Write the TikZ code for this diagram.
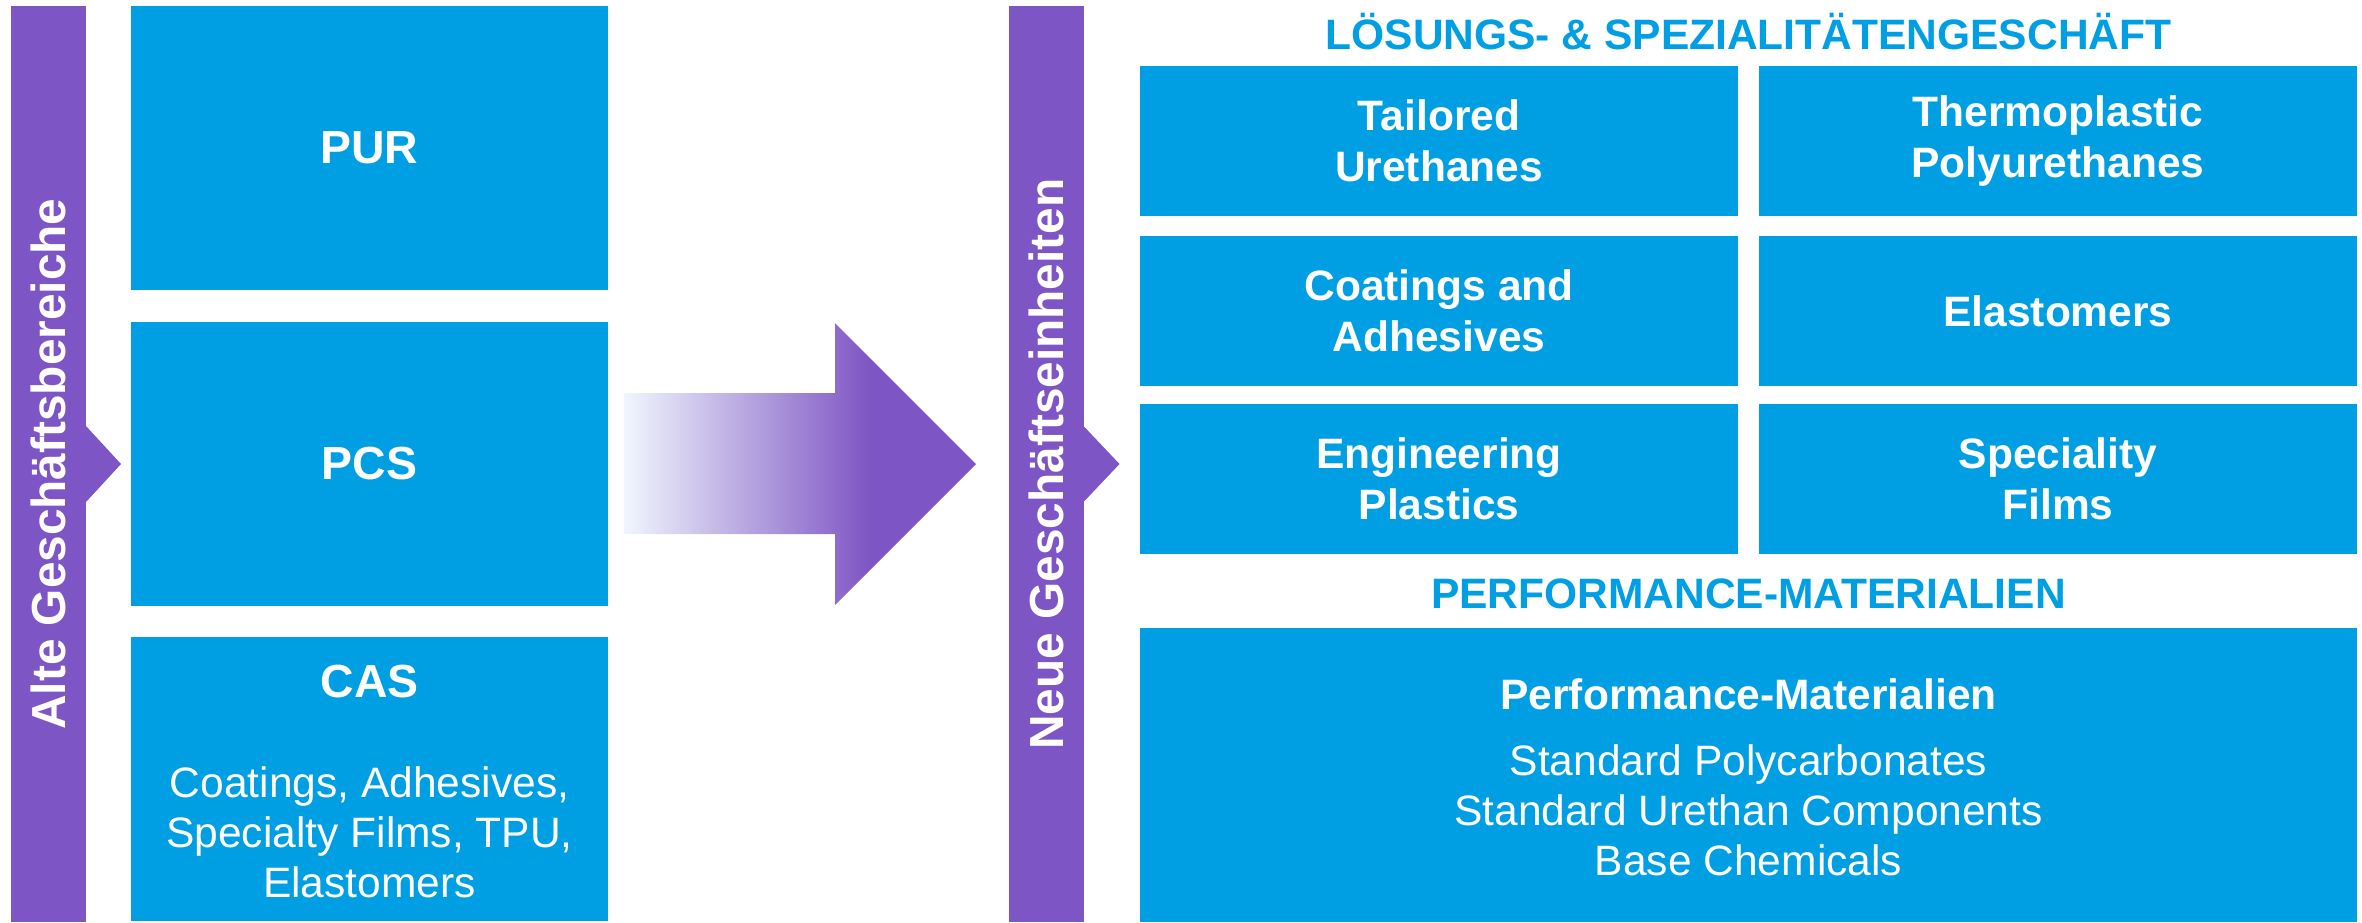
\documentclass[tikz,border=0pt]{standalone}
\usepackage{fontspec}
\setmainfont{Liberation Sans}
\usepackage{tikz}
\usetikzlibrary{positioning}
\usepackage{xcolor}
\definecolor{barviolet}{HTML}{7E55C4}
\definecolor{unitblue}{HTML}{009FE3}
\definecolor{fadelight}{HTML}{F0F6FD}
\pgfdeclarehorizontalshading{arrowfade}{100bp}{color(0bp)=(fadelight); color(25bp)=(fadelight); color(60bp)=(barviolet); color(100bp)=(barviolet)}

\begin{document}
\begin{tikzpicture}[x=0.1mm, y=-0.1mm]
    \tikzstyle{sidebar} = [fill=barviolet, inner sep=0pt, outer sep=0pt, minimum width=7.5mm, minimum height=91.6mm]
    \tikzstyle{sidetext} = [text=white, rotate=90, font=\fontsize{13.6}{16}\selectfont\bfseries]
    \tikzstyle{oldunit} = [fill=unitblue, text=white, inner sep=0pt, outer sep=0pt, minimum width=47.7mm, minimum height=28.4mm, font=\fontsize{13.2}{15.8}\selectfont\bfseries]
    \tikzstyle{newunit} = [fill=unitblue, text=white, align=center, inner sep=0pt, outer sep=0pt, minimum width=59.8mm, minimum height=15mm, font=\fontsize{12.1}{14.6}\selectfont\bfseries]
    \tikzstyle{heading} = [text=unitblue, inner sep=0pt, font=\fontsize{12.1}{14.6}\selectfont\bfseries]
    \tikzstyle{unittitle} = [text=white, inner sep=0pt, font=\fontsize{13.2}{15.8}\selectfont\bfseries]
    \tikzstyle{listtext} = [text=white, align=center, inner sep=0pt, font=\fontsize{12.1}{14.2}\selectfont]

    \useasboundingbox (0,0) rectangle (2362,922);

    % old business areas
    \node [sidebar] at (48.5,464) (altebar) {};
    \fill [barviolet] ([yshift=3.8mm]altebar.east) -- ([xshift=3.5mm]altebar.east) -- ([yshift=-3.8mm]altebar.east) -- cycle;
    \node [sidetext] at (altebar.center) (altelabel) {Alte Geschäftsbereiche};

    \node [oldunit] at (369.5,148) (pur) {PUR};
    \node [oldunit, below=3.2mm of pur] (pcs) {PCS};
    \node [oldunit, below=3.1mm of pcs] (cas) {};
    \node [unittitle] at (369.5,682) (castitle) {CAS};
    \node [listtext] at (369.5,832) (caslist) {Coatings, Adhesives,\\Specialty Films, TPU,\\Elastomers};

    % transition arrow
    \shade [shading=arrowfade] (624,393) -- (835,393) -- (835,323) -- (976,464) -- (835,605) -- (835,534) -- (624,534) -- cycle;

    % new business units
    \node [sidebar] at (1046,464) (neuebar) {};
    \fill [barviolet] ([yshift=3.8mm]neuebar.east) -- ([xshift=3.6mm]neuebar.east) -- ([yshift=-3.8mm]neuebar.east) -- cycle;
    \node [sidetext] at (neuebar.center) (neuelabel) {Neue Geschäftseinheiten};

    \node [heading] at (1748.5,32) (solutions) {LÖSUNGS- \& SPEZIALITÄTENGESCHÄFT};
    \node [newunit] at (1439,141) (tailored) {Tailored\\Urethanes};
    \node [newunit, right=2.1mm of tailored] (tpu) {Thermoplastic\\Polyurethanes};
    \node [newunit, below=2mm of tailored] (coatings) {Coatings and\\Adhesives};
    \node [newunit, right=2.1mm of coatings] (elastomers) {Elastomers};
    \node [newunit, below=1.8mm of coatings] (engineering) {Engineering\\Plastics};
    \node [newunit, right=2.1mm of engineering] (films) {Speciality\\Films};

    \node [heading] at (1748.5,594) (performance) {PERFORMANCE-MATERIALIEN};
    \node [newunit, minimum width=121.7mm, minimum height=29.4mm] at (1748.5,775) (pm) {};
    \node [unittitle, font=\fontsize{12.1}{14.6}\selectfont\bfseries] at (1748.5,694) (pmtitle) {Performance-Materialien};
    \node [listtext] at (1748.5,810) (pmlist) {Standard Polycarbonates\\Standard Urethan Components\\Base Chemicals};
\end{tikzpicture}
\end{document}
